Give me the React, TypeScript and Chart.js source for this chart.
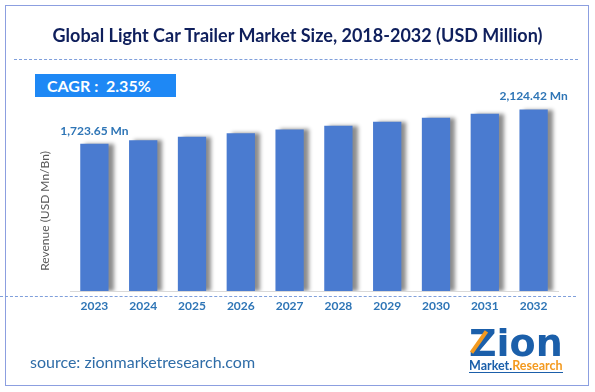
import React, { useEffect, useRef } from "react";
import { Chart, registerables } from "chart.js";

Chart.register(...registerables);

const years = ["2023", "2024", "2025", "2026", "2027", "2028", "2029", "2030", "2031", "2032"];
const revenue = [1723.65, 1764.2, 1805.6, 1848.1, 1891.5, 1936.0, 1981.5, 2028.0, 2075.7, 2124.42];
const valueLabels = ["1,723.65 Mn", "", "", "", "", "", "", "", "", "2,124.42 Mn"];
const titleText = "Global Light Car Trailer Market Size, 2018-2032 (USD Million)";
const cagrText = "CAGR :  2.35%";
const yAxisTitle = "Revenue (USD Mn/Bn)";
const sourceText = "source: zionmarketresearch.com";

const FONT = "Lato, 'Open Sans', sans-serif";

const shadowPlugin = {
  id: "barShadow",
  beforeDatasetsDraw(chart: any) {
    const ctx = chart.ctx;
    ctx.save();
    ctx.shadowColor = "rgba(0,0,0,0.45)";
    ctx.shadowOffsetX = 5;
    ctx.shadowOffsetY = 0;
    ctx.shadowBlur = 4;
  },
  afterDatasetsDraw(chart: any) {
    chart.ctx.restore();
  },
};

const labelPlugin = {
  id: "valueLabels",
  afterDraw(chart: any) {
    const ctx = chart.ctx;
    const meta = chart.getDatasetMeta(0);
    ctx.save();
    ctx.font = `bold 12px ${FONT}`;
    ctx.fillStyle = "#2E75B6";
    ctx.textAlign = "center";
    ctx.textBaseline = "middle";
    meta.data.forEach((el: any, i: number) => {
      const t = valueLabels[i];
      if (t) ctx.fillText(t, el.x, el.y - 13);
    });
    ctx.restore();
  },
};

export default function App() {
  const ref = useRef<HTMLCanvasElement>(null);
  useEffect(() => {
    if (!ref.current) return;
    const chart = new Chart(ref.current, {
      type: "bar",
      data: {
        labels: years,
        datasets: [
          {
            data: revenue,
            backgroundColor: "#4A7BD0",
            borderWidth: 0,
            categoryPercentage: 1,
            barPercentage: 0.58,
          },
        ],
      },
      options: {
        animation: false,
        responsive: false,
        maintainAspectRatio: false,
        layout: { padding: { top: 86, bottom: 71, left: 70, right: 37 } },
        plugins: { legend: { display: false }, tooltip: { enabled: false }, title: { display: false } },
        scales: {
          x: {
            grid: { display: false, drawTicks: false },
            border: { display: true, color: "#D9D9D9", width: 1 },
            ticks: { color: "#2E75B6", font: { family: FONT, size: 12, weight: "bold" }, padding: 8 },
            afterFit(scale: any) {
              scale.height = 30;
            },
          },
          y: { display: false, min: 0, max: 2400 },
        },
      },
      plugins: [shadowPlugin, labelPlugin],
    } as any);
    return () => chart.destroy();
  }, []);

  return (
    <div style={{ position: "absolute", left: 0, top: 0, width: 595, height: 392, background: "#fff", overflow: "hidden", fontFamily: FONT }}>
      <canvas ref={ref} width={595} height={392} style={{ position: "absolute", left: 0, top: 0, display: "block" }} />
      <div style={{ position: "absolute", left: 5, top: 5, width: 582, height: 379, border: "1.5px solid #8C9FE0" }} />
      <div style={{ position: "absolute", left: 0, top: 24, width: 595, textAlign: "center", fontSize: 18, fontWeight: "bold", color: "#0F1F5C" }}>{titleText}</div>
      <div style={{ position: "absolute", left: 14, top: 59, width: 564, borderTop: "1.5px dashed #7F9FDB" }} />
      <div style={{ position: "absolute", left: 35, top: 74, width: 141, height: 23, background: "#1E88F5", color: "#fff", fontWeight: "bold", fontSize: 16, lineHeight: "23px", paddingLeft: 12, boxSizing: "border-box", whiteSpace: "pre" }}>{cagrText}</div>
      <div style={{ position: "absolute", left: 44, top: 211, width: 0, height: 0 }}>
        <div style={{ position: "absolute", transform: "translate(-50%,-50%) rotate(-90deg)", whiteSpace: "nowrap", fontSize: 12, color: "#595959" }}>{yAxisTitle}</div>
      </div>
      <div style={{ position: "absolute", left: 0, top: 296, width: 576, borderTop: "1.5px dashed #7F9FDB" }} />
      <div style={{ position: "absolute", left: 30, top: 352, fontSize: 16, color: "#2F6DA8", whiteSpace: "nowrap" }}>{sourceText}</div>
      <div style={{ position: "absolute", left: 469, top: 323, width: 100, height: 55 }}>
        <div style={{ position: "absolute", left: 0, top: 0, fontSize: 38, fontWeight: 900, color: "#1B5FAA", letterSpacing: 0, lineHeight: "40px", fontFamily: "'DejaVu Sans', sans-serif" }}>Zion</div>
        <div style={{ position: "absolute", left: 8, top: 6, width: 4, height: 26, background: "#F39A1F", transform: "rotate(35deg)" }} />
        <div style={{ position: "absolute", left: 0, top: 36, fontSize: 12.5, fontWeight: "bold", whiteSpace: "nowrap", borderBottom: "1px solid #1B5FAA", lineHeight: "13px" }}>
          <span style={{ color: "#1B5FAA" }}>Market.</span>
          <span style={{ color: "#F39A1F" }}>Research</span>
        </div>
      </div>
    </div>
  );
}
